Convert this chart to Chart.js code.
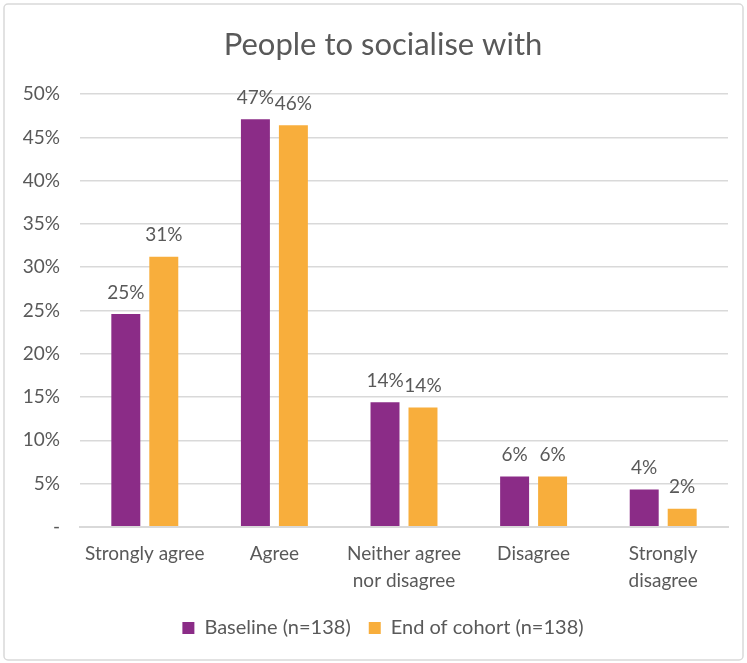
<!DOCTYPE html>
<html>
<head>
<meta charset="utf-8">
<script src="https://cdn.jsdelivr.net/npm/chart.js@4"></script>
<style>
  html, body { margin: 0; padding: 0; background: #fff; }
  #wrap { width: 747px; height: 663px; position: relative; }
</style>
</head>
<body>
<div id="wrap"><canvas id="chart" width="747" height="663"></canvas></div>
<script>
// Data
const categories = ['Strongly agree', 'Agree', ['Neither agree', 'nor disagree'], 'Disagree', ['Strongly', 'disagree']];
const baseline = [0.246, 0.471, 0.144, 0.058, 0.043];
const endOfCohort = [0.312, 0.464, 0.138, 0.058, 0.021];
const seriesNames = ['Baseline (n=138)', 'End of cohort (n=138)'];

const textColor = '#595959';
const gridColor = '#d9d9d9';
const fontFamily = 'Lato, "Open Sans", sans-serif';

const yTickLabel = v => v === 0 ? '-' : Math.round(v * 100) + '%';

// Outer rounded frame like the Excel chart area
const framePlugin = {
    id: 'frame',
    beforeDraw(chart) {
        const ctx = chart.ctx;
        ctx.save();
        ctx.fillStyle = '#fff';
        ctx.fillRect(0, 0, chart.width, chart.height);
        ctx.strokeStyle = gridColor;
        ctx.lineWidth = 1.5;
        ctx.beginPath();
        ctx.roundRect(4, 4, chart.width - 8, chart.height - 7, 4);
        ctx.stroke();
        ctx.restore();
    }
};

// y tick labels drawn outside the (narrow) scale box so they are not clipped
const yLabels = {
    id: 'yLabels',
    afterDraw(chart) {
        const scale = chart.scales.y;
        const ctx = chart.ctx;
        ctx.save();
        ctx.font = '19px ' + fontFamily;
        ctx.fillStyle = textColor;
        ctx.textAlign = 'right';
        ctx.textBaseline = 'middle';
        scale.ticks.forEach(t => {
            ctx.fillText(yTickLabel(t.value), scale.right - 20, scale.getPixelForValue(t.value));
        });
        ctx.restore();
    }
};

// Value labels above each bar
const valueLabels = {
    id: 'valueLabels',
    afterDatasetsDraw(chart) {
        const ctx = chart.ctx;
        ctx.save();
        ctx.font = '19px ' + fontFamily;
        ctx.fillStyle = textColor;
        ctx.textAlign = 'center';
        ctx.textBaseline = 'bottom';
        chart.data.datasets.forEach((ds, i) => {
            chart.getDatasetMeta(i).data.forEach((bar, j) => {
                ctx.fillText(Math.round(ds.data[j] * 100) + '%', bar.x, bar.y - 12);
            });
        });
        ctx.restore();
    }
};

new Chart(document.getElementById('chart'), {
    type: 'bar',
    data: {
        labels: categories,
        datasets: [{
            label: seriesNames[0],
            data: baseline,
            backgroundColor: '#8b2c87',
            barPercentage: 0.763,
            categoryPercentage: 0.586
        }, {
            label: seriesNames[1],
            data: endOfCohort,
            backgroundColor: '#f8ae3c',
            barPercentage: 0.763,
            categoryPercentage: 0.586
        }]
    },
    options: {
        responsive: false,
        animation: false,
        layout: {
            padding: { left: 38, right: 19, top: 0, bottom: 15 }
        },
        plugins: {
            title: {
                display: true,
                text: 'People to socialise with',
                color: textColor,
                font: { family: fontFamily, size: 31, weight: 'normal' },
                padding: { top: 26, bottom: 31 }
            },
            legend: {
                position: 'bottom',
                labels: {
                    color: textColor,
                    font: { family: fontFamily, size: 20 },
                    boxWidth: 12,
                    boxHeight: 12,
                    padding: 18
                }
            },
            tooltip: { enabled: false }
        },
        scales: {
            x: {
                grid: { display: false },
                border: { color: gridColor, width: 2 },
                ticks: {
                    color: textColor,
                    font: { family: fontFamily, size: 19, lineHeight: 1.4 },
                    maxRotation: 0,
                    padding: 6
                }
            },
            y: {
                min: 0,
                max: 0.5,
                afterFit(scale) { scale.width = 42; },
                grid: { color: gridColor, lineWidth: 1.5, drawTicks: false },
                border: { display: false },
                ticks: {
                    display: false,
                    stepSize: 0.05
                }
            }
        }
    },
    plugins: [framePlugin, yLabels, valueLabels]
});
</script>
</body>
</html>
